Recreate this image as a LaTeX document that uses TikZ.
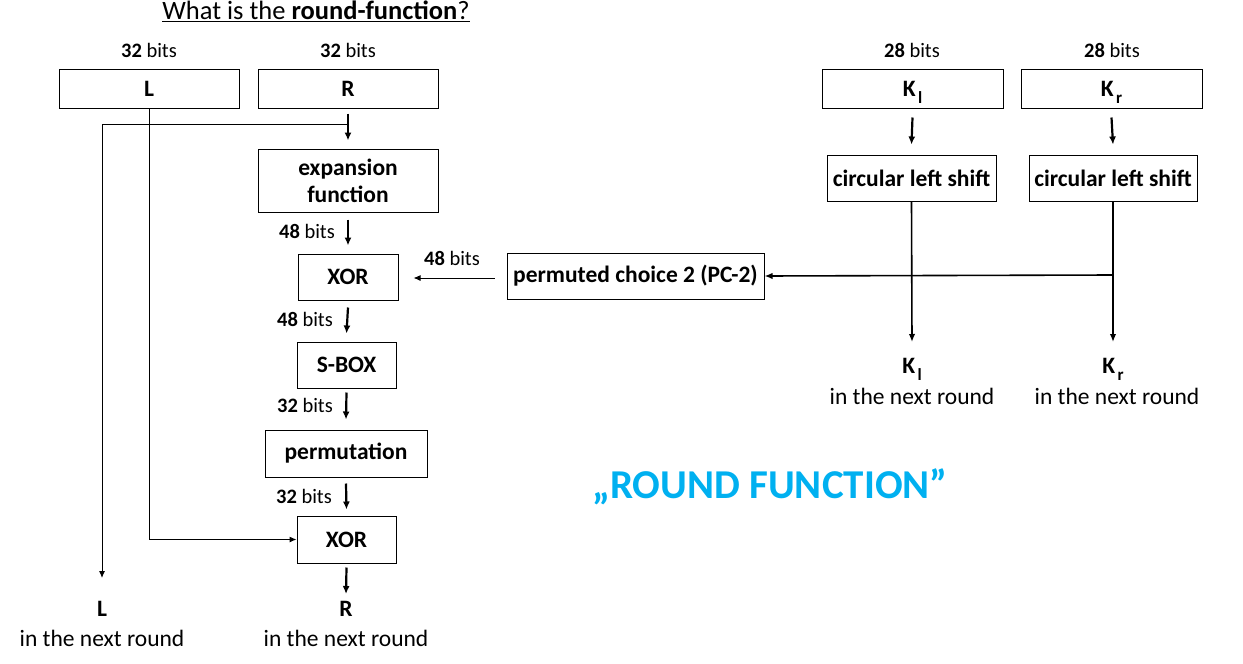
\documentclass[tikz,border=0pt]{standalone}
\usepackage{fontspec}
\setmainfont{Carlito}
\usetikzlibrary{arrows.meta}
\tikzset{>=latex}
\definecolor{roundblue}{HTML}{00B0F0}
\newcommand{\keysub}[1]{\kern0.1em\smash{\raisebox{-0.3em}{\fontsize{17}{17}\selectfont #1}}}

\begin{document}
\begin{tikzpicture}[x=1pt, y=-1pt,
    box/.style={draw, line width=1pt, inner sep=0pt, font=\fontsize{23.5}{27}\selectfont\bfseries, align=center},
    bits/.style={font=\fontsize{20.5}{24}\selectfont},
    nextround/.style={font=\fontsize{23.5}{27}\selectfont},
    outname/.style={font=\fontsize{23.5}{27}\selectfont\bfseries},
    thickarrow/.style={-{Latex[length=8pt, width=7pt]}, line width=2.2pt},
    thinarrow/.style={-{Latex[length=7pt, width=6pt]}, line width=1pt},
    keyarrow/.style={-{Latex[length=8pt, width=6.5pt]}, line width=1.6pt}]
    \useasboundingbox (0, 0) rectangle (1243, 664);
    % title
    \node[font=\fontsize{26.5}{30}\selectfont] (title) at (316, 11) {\underline{What is the \textbf{round-function}?}};
    % data half-blocks
    \node[bits] (bitsL) at (149, 50) {\textbf{32} bits};
    \node[bits] (bitsR) at (348, 50) {\textbf{32} bits};
    \node[box, minimum width=180pt, minimum height=39pt] (L) at (149, 88.5) {L};
    \node[box, minimum width=180pt, minimum height=39pt] (R) at (348, 88.5) {R};
    \node[box, minimum width=180pt, minimum height=63pt] (exp) at (348, 180.5) {expansion\\function};
    \node[box, minimum width=100pt, minimum height=46pt] (xorA) at (348, 277) {XOR};
    \node[box, minimum width=99pt, minimum height=46pt] (sbox) at (346.5, 365) {S-BOX};
    \node[box, minimum width=162pt, minimum height=47pt] (perm) at (346, 453.5) {permutation};
    \node[box, minimum width=99pt, minimum height=47pt] (xorB) at (346.5, 539.5) {XOR};
    \node[outname] (Lout) at (102, 609) {L};
    \node[nextround] (Lnext) at (102, 638) {in the next round};
    \node[outname] (Rout) at (346, 609) {R};
    \node[nextround] (Rnext) at (346, 638) {in the next round};
    % bit widths along the chain
    \node[bits] (bitsA) at (307, 231) {\textbf{48} bits};
    \node[bits] (bitsB) at (452, 258) {\textbf{48} bits};
    \node[bits] (bitsC) at (305, 319) {\textbf{48} bits};
    \node[bits] (bitsD) at (305, 405) {\textbf{32} bits};
    \node[bits] (bitsE) at (304, 496) {\textbf{32} bits};
    % key halves
    \node[bits] (bitsKl) at (912, 50) {\textbf{28} bits};
    \node[bits] (bitsKr) at (1112, 50) {\textbf{28} bits};
    \node[box, minimum width=181pt, minimum height=39pt] (Kl) at (912.5, 88.5) {K\keysub{l}};
    \node[box, minimum width=181pt, minimum height=39pt] (Kr) at (1111.5, 88.5) {K\keysub{r}};
    \node[box, minimum width=169pt, minimum height=46pt] (shiftL) at (911.5, 178) {circular left shift};
    \node[box, minimum width=168pt, minimum height=46pt] (shiftR) at (1113, 178) {circular left shift};
    \node[box, minimum width=257pt, minimum height=46pt] (pc) at (635.5, 276) {permuted choice 2 (PC-2)};
    \node[outname] (Klout) at (912, 366) {K\keysub{l}};
    \node[nextround] (Klnext) at (912, 396) {in the next round};
    \node[outname] (Krout) at (1113, 366) {K\keysub{r}};
    \node[nextround] (Krnext) at (1117, 396) {in the next round};
    \node[font=\fontsize{41}{46}\selectfont\bfseries, text=roundblue] (rf) at (770, 487) {„ROUND FUNCTION”};
    % free ends
    \coordinate (split) at (348, 124);
    \coordinate (Lend) at (102, 578);
    \coordinate (Klend) at (912, 342);
    \coordinate (Krend) at (1113, 342);
    \coordinate (join) at (1113, 275);
    % connectors
    \draw[thickarrow] ([yshift=-5pt]R.south) -- ([yshift=8pt]exp.north);
    \draw[thickarrow] ([yshift=-7pt]exp.south) -- ([yshift=8pt]xorA.north);
    \draw[thickarrow] ([yshift=-7pt]xorA.south) -- ([yshift=8pt]sbox.north);
    \draw[thickarrow] ([yshift=-4pt]sbox.south) -- ([yshift=10pt]perm.north);
    \draw[thickarrow] ([yshift=-6pt]perm.south) -- ([yshift=6pt]xorB.north);
    \draw[thickarrow] ([yshift=-4pt]xorB.south) -- (346, 594);
    \draw[thinarrow] (split) -| (Lend);
    \draw[thinarrow] (L.south) |- (xorB.west);
    \draw[thinarrow] ([xshift=-12pt, yshift=-2pt]pc.west) -- ([xshift=15pt, yshift=-1pt]xorA.east);
    \draw[thickarrow] ([yshift=-9pt]Kl.south) -- ([yshift=10pt]shiftL.north);
    \draw[thickarrow] ([yshift=-9pt]Kr.south) -- ([yshift=10pt]shiftR.north);
    \draw[keyarrow] (shiftL.south) -- (Klend);
    \draw[keyarrow] (shiftR.south) -- (Krend);
    \draw[keyarrow] (join) -- (pc.east);
\end{tikzpicture}
\end{document}
